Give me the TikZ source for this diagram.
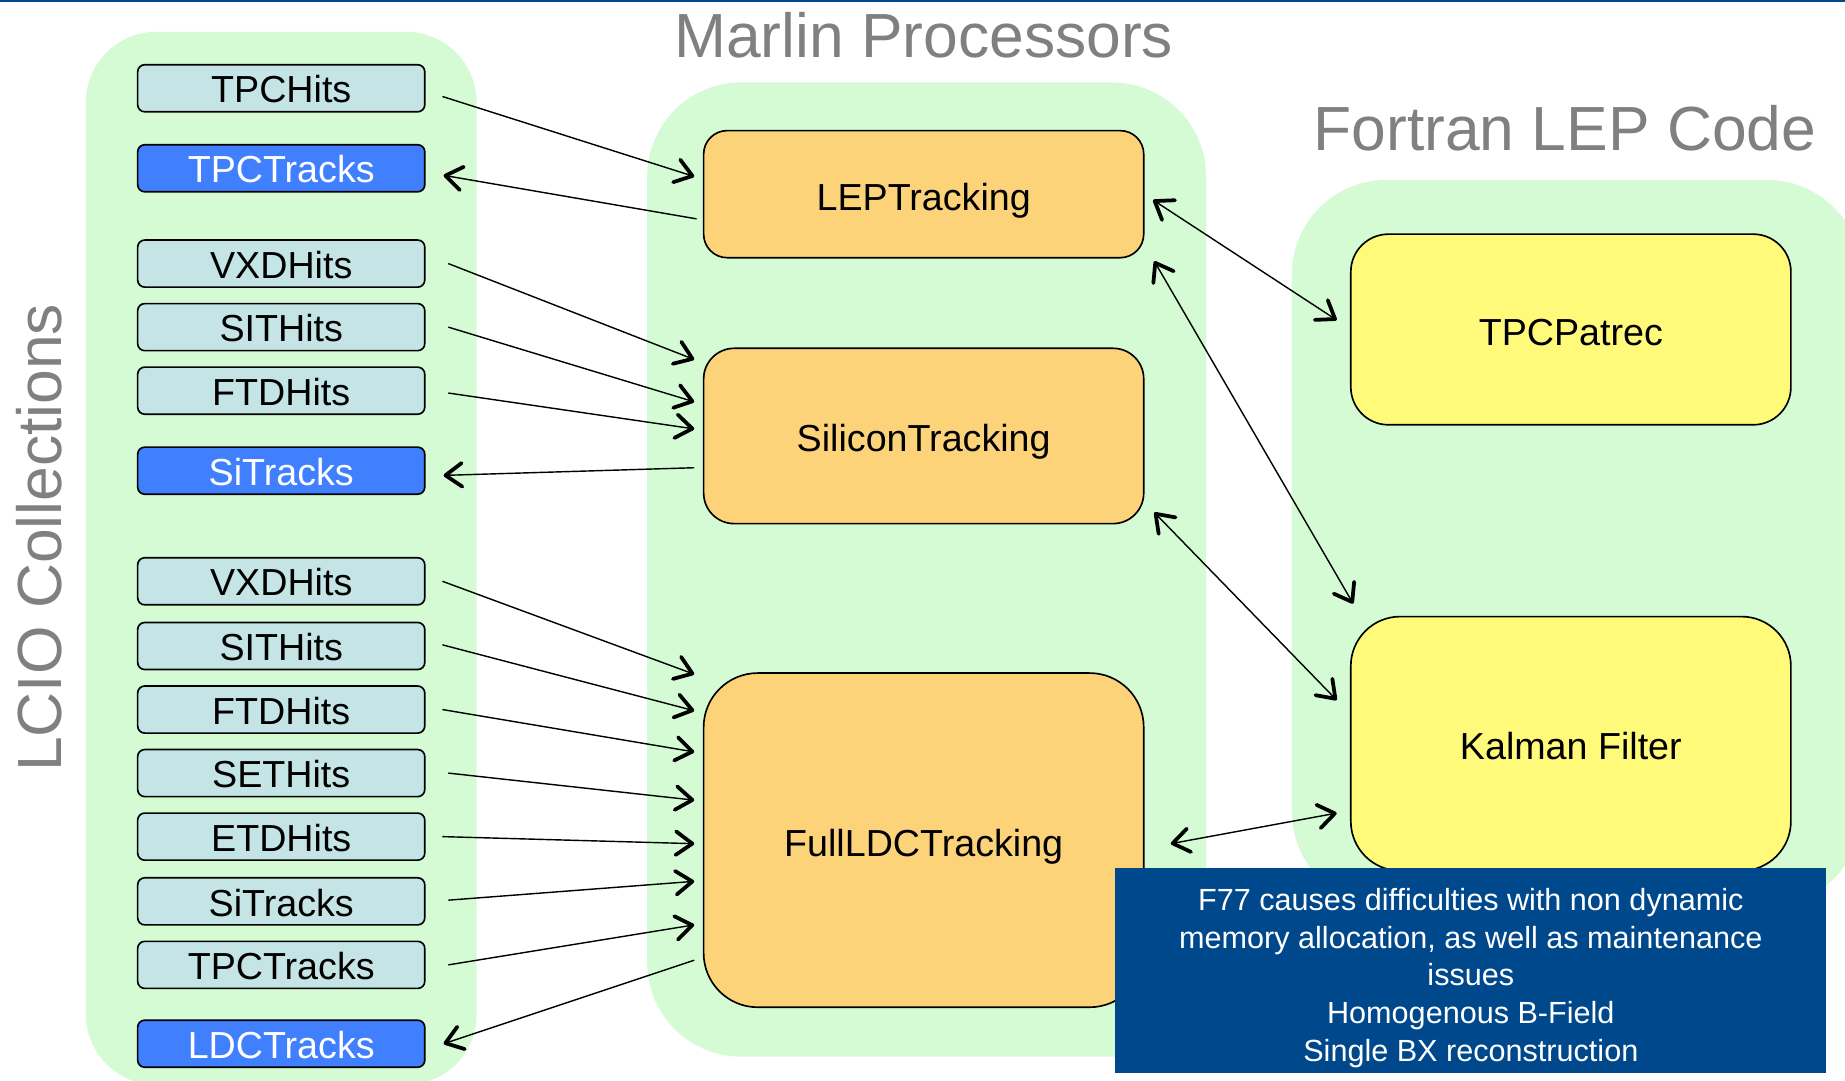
\documentclass[tikz,border=0pt]{standalone}
\usepackage{fontspec}
\setmainfont{Liberation Sans}
\usetikzlibrary{arrows.meta}
\definecolor{panelgreen}{RGB}{213,251,213}
\definecolor{hitblue}{RGB}{196,228,230}
\definecolor{trkblue}{RGB}{64,128,255}
\definecolor{procorange}{RGB}{253,211,122}
\definecolor{fortyellow}{RGB}{255,250,122}
\definecolor{notebg}{RGB}{0,72,140}
\definecolor{titlegray}{RGB}{128,128,128}
\begin{document}
\begin{tikzpicture}[x=0.5pt,y=-0.5pt,
  panel/.style={fill=panelgreen},
  coll/.style={draw=black, line width=0.7pt, rounded corners=3pt,
    minimum width=122pt, minimum height=20pt, inner sep=0pt, outer sep=0pt,
    font=\fontsize{16}{19}\selectfont, text height=12.5pt, text depth=0pt},
  hit/.style={coll, fill=hitblue},
  trk/.style={coll, fill=trkblue, text=white},
  proc/.style={draw=black, line width=0.7pt, fill=procorange,
    minimum width=187pt, inner sep=0pt, outer sep=0pt,
    font=\fontsize{16}{19}\selectfont, text height=13.5pt, text depth=0pt},
  fort/.style={proc, fill=fortyellow},
  title/.style={text=titlegray, font=\fontsize{26.5}{30}\selectfont, inner sep=0pt, anchor=base},
  tip/.tip={Straight Barb[length=7pt,width=10pt,line width=1.6pt,round]},
  arr/.style={line width=0.6pt, -tip},
  dbl/.style={line width=0.6pt, tip-tip}
]
\useasboundingbox (0,0) rectangle (1568,918);
\clip (0,0) rectangle (1568,918);
\fill[white] (0,0) rectangle (1568,918);
\draw[notebg, line width=0.9pt] (0,0.9) -- (1568,0.9);

% background panels
\fill[panel, rounded corners=30pt] (73,27) rectangle (405,922);
\fill[panel, rounded corners=40pt] (550,70) rectangle (1025,898);
\fill[panel, rounded corners=40pt] (1098,153) rectangle (1582,770);

% titles
\node[title] (tmarlin) at (785,49) {Marlin Processors};
\node[title] (tfortran) at (1330,128) {Fortran LEP Code};
\node[title, rotate=90] (tlcio) at (52,457) {LCIO Collections};

% LCIO collections
\node[hit] (tpchits)  at (239,75)  {TPCHits};
\node[trk] (tpctrk1)  at (239,143) {TPCTracks};
\node[hit] (vxd1)     at (239,224) {VXDHits};
\node[hit] (sit1)     at (239,278) {SITHits};
\node[hit] (ftd1)     at (239,332) {FTDHits};
\node[trk] (sitrk1)   at (239,400) {SiTracks};
\node[hit] (vxd2)     at (239,494) {VXDHits};
\node[hit] (sit2)     at (239,549) {SITHits};
\node[hit] (ftd2)     at (239,603) {FTDHits};
\node[hit] (set)      at (239,657) {SETHits};
\node[hit] (etd)      at (239,711) {ETDHits};
\node[hit] (sitrk2)   at (239,766) {SiTracks};
\node[hit] (tpctrk2)  at (239,820) {TPCTracks};
\node[trk] (ldctrk)   at (239,887) {LDCTracks};

% Marlin processors
\node[proc, minimum height=54pt, rounded corners=10pt] (lep) at (785,165) {LEPTracking};
\node[proc, minimum height=74.5pt, rounded corners=13pt] (si) at (785,370.5) {SiliconTracking};
\node[proc, minimum height=142pt, rounded corners=23pt] (full) at (785,714) {FullLDCTracking};

% Fortran code
\node[fort, minimum height=81pt, rounded corners=16pt] (tpcp) at (1335,280) {TPCPatrec};
\node[fort, minimum height=108pt, rounded corners=21pt] (kal) at (1335,632) {Kalman Filter};

% collections into and out of the processors
\draw[arr] ([shift={(15,7)}]tpchits.east) -- ([shift={(-8,-15)}]lep.west);
\draw[arr] ([shift={(-6,21)}]lep.west) -- ([shift={(16,6)}]tpctrk1.east);
\draw[arr] ([shift={(20,0)}]vxd1.east) -- ([shift={(-8,-65)}]si.west);
\draw[arr] ([shift={(20,0)}]sit1.east) -- ([shift={(-8,-29)}]si.west);
\draw[arr] ([shift={(20,2)}]ftd1.east) -- ([shift={(-8,-6)}]si.west);
\draw[arr] ([shift={(-8,27)}]si.west) -- ([shift={(16,4)}]sitrk1.east);
\draw[arr] ([shift={(15,0)}]vxd2.east) -- ([shift={(-8,-141)}]full.west);
\draw[arr] ([shift={(15,-1)}]sit2.east) -- ([shift={(-8,-110)}]full.west);
\draw[arr] ([shift={(15,0)}]ftd2.east) -- ([shift={(-8,-75)}]full.west);
\draw[arr] ([shift={(20,0)}]set.east) -- ([shift={(-8,-34)}]full.west);
\draw[arr] ([shift={(15,0)}]etd.east) -- ([shift={(-8,3)}]full.west);
\draw[arr] ([shift={(20,-1)}]sitrk2.east) -- ([shift={(-8,35)}]full.west);
\draw[arr] ([shift={(20,0)}]tpctrk2.east) -- ([shift={(-8,72)}]full.west);
\draw[arr] ([shift={(-8,102)}]full.west) -- ([shift={(16,0)}]ldctrk.east);

% processors talking to the Fortran code
\draw[dbl] ([shift={(8,5)}]lep.east) -- ([shift={(-12,-8)}]tpcp.west);
\draw[dbl] ([shift={(9,57)}]lep.east) -- ([shift={(2,-11)}]kal.north west);
\draw[dbl] ([shift={(9,65)}]si.east) -- ([shift={(-12,-37)}]kal.west);
\draw[dbl] ([shift={(23,3)}]full.east) -- ([shift={(-12,59)}]kal.west);

% note box
\node[fill=notebg, minimum width=302pt, minimum height=87pt, inner sep=0pt, outer sep=0pt] (note) at (1250,825) {};
\node[text=white, align=center, inner sep=0pt, font=\fontsize{13}{16}\selectfont] (notetext) at (1250,831)
  {F77 causes difficulties with non dynamic\\memory allocation, as well as maintenance\\issues\\Homogenous B-Field\\Single BX reconstruction};
\end{tikzpicture}
\end{document}
